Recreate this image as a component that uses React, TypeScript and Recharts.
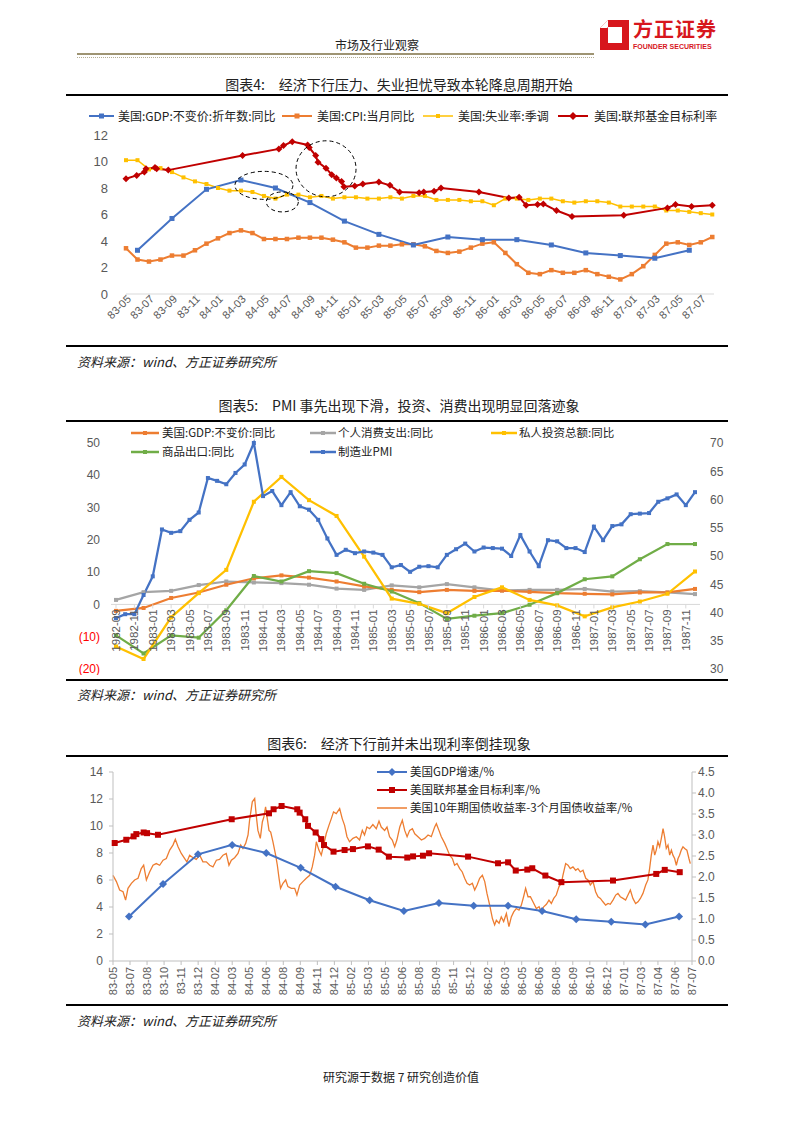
import React from 'react';
import { LineChart, Line, XAxis, YAxis, ReferenceLine, ReferenceDot } from 'recharts';

const CJK = '"Noto Sans CJK SC", "Noto Sans", sans-serif';
const LAT = '"Liberation Sans", Arial, sans-serif';

const BLUE = '#4472C4';
const ORANGE = '#ED7D31';
const YELLOW = '#FFC000';
const RED = '#C00000';
const GRAY = '#A5A5A5';
const GREEN = '#70AD47';
const TXT = '#595959';

// ---------- 图表4 (monthly axis, t = months since 1983-05) ----------
const F4_TICKS = [
  '83-05', '83-07', '83-09', '83-11', '84-01', '84-03', '84-05', '84-07', '84-09', '84-11',
  '85-01', '85-03', '85-05', '85-07', '85-09', '85-11', '86-01', '86-03', '86-05', '86-07',
  '86-09', '86-11', '87-01', '87-03', '87-05', '87-07',
];
// CPI 当月同比, 1983-05 .. 1987-08
const F4_CPI = [
  3.45, 2.6, 2.45, 2.6, 2.9, 2.9, 3.3, 3.8,
  4.2, 4.6, 4.8, 4.6, 4.15, 4.15, 4.15, 4.25, 4.25, 4.25, 4.1, 3.9,
  3.5, 3.5, 3.65, 3.65, 3.75, 3.75, 3.6, 3.25, 3.1, 3.2, 3.5, 3.8,
  3.9, 3.1, 2.25, 1.6, 1.5, 1.8, 1.6, 1.6, 1.8, 1.5, 1.3, 1.1,
  1.5, 2.1, 2.95, 3.8, 3.9, 3.7, 3.9, 4.3,
];
// 失业率:季调, 1983-05 .. 1987-08
const F4_UNEMP = [
  10.1, 10.1, 9.4, 9.5, 9.2, 8.8, 8.5, 8.3,
  8.0, 7.8, 7.8, 7.7, 7.4, 7.2, 7.5, 7.5, 7.3, 7.4, 7.2, 7.3,
  7.3, 7.2, 7.2, 7.3, 7.2, 7.4, 7.4, 7.1, 7.1, 7.1, 7.0, 7.0,
  6.7, 7.2, 7.2, 7.1, 7.2, 7.2, 7.0, 6.9, 7.0, 7.0, 6.9, 6.6,
  6.6, 6.6, 6.6, 6.3, 6.3, 6.2, 6.1, 6.0,
];
// GDP 不变价 同比, quarterly 1983Q2 .. 1987Q2
const GDP_US = [3.3, 5.7, 7.9, 8.6, 8.0, 6.9, 5.5, 4.5, 3.7, 4.3, 4.1, 4.1, 3.7, 3.1, 2.9, 2.7, 3.3];
// 联邦基金目标利率: [months since 1983-05, rate]
const F4_FED: [number, number][] = [
  [0, 8.7], [0.93, 8.95], [1.6, 9.2], [1.74, 9.45], [2.52, 9.55], [2.67, 9.45], [3.68, 9.35],
  [10.14, 10.45], [13.3, 10.95], [13.7, 11.2], [14.46, 11.5], [15.8, 11.25], [15.94, 11.05],
  [16.5, 10.45], [16.7, 9.95], [17.4, 9.5], [17.9, 9.0], [18.3, 8.75], [18.75, 8.5], [18.96, 8.1],
  [19.9, 8.15], [20.6, 8.3], [22.0, 8.45], [22.96, 8.2], [23.8, 7.7], [25.5, 7.65], [25.9, 7.7],
  [26.8, 7.75], [27.4, 8.0], [30.7, 7.7], [33.3, 7.25], [34.2, 7.3], [34.8, 6.7], [35.8, 6.75],
  [36.3, 6.8], [37.45, 6.3], [38.8, 5.85], [43.3, 5.95], [47.1, 6.5], [47.8, 6.75], [49.2, 6.6],
  [51.0, 6.7],
];
// dashed circles drawn on the chart (centre in data units, radii in px)
const F4_RINGS = [
  { t: 12.0, v: 8.2, rx: 29, ry: 14 },
  { t: 13.6, v: 6.95, rx: 16, ry: 10 },
  { t: 17.4, v: 9.45, rx: 30, ry: 28 },
];

// ---------- 图表5 ----------
const F5_MONTHS = [
  '1982-09', '1982-10', '1982-11', '1982-12',
  '1983-01', '1983-02', '1983-03', '1983-04', '1983-05', '1983-06', '1983-07', '1983-08', '1983-09', '1983-10', '1983-11', '1983-12',
  '1984-01', '1984-02', '1984-03', '1984-04', '1984-05', '1984-06', '1984-07', '1984-08', '1984-09', '1984-10', '1984-11', '1984-12',
  '1985-01', '1985-02', '1985-03', '1985-04', '1985-05', '1985-06', '1985-07', '1985-08', '1985-09', '1985-10', '1985-11', '1985-12',
  '1986-01', '1986-02', '1986-03', '1986-04', '1986-05', '1986-06', '1986-07', '1986-08', '1986-09', '1986-10', '1986-11', '1986-12',
  '1987-01', '1987-02', '1987-03', '1987-04', '1987-05', '1987-06', '1987-07', '1987-08', '1987-09', '1987-10', '1987-11', '1987-12',
];
const F5_PMI = [
  39.0, 39.7, 39.7, 43.1, 46.4, 54.7, 54.1, 54.4, 56.4, 57.7,
  63.8, 63.3, 62.7, 64.7, 66.2, 70.0, 60.6, 61.5, 59.0, 61.3,
  58.8, 58.2, 56.4, 53.1, 50.2, 51.1, 50.5, 50.8, 50.6, 50.2,
  48.0, 48.4, 47.2, 48.1, 48.2, 48.0, 50.2, 51.2, 52.2, 50.8,
  51.5, 51.4, 51.3, 50.0, 53.7, 50.8, 48.2, 52.8, 52.6, 51.4,
  51.4, 50.7, 55.2, 52.8, 55.3, 55.6, 57.4, 57.5, 57.6, 59.6,
  60.2, 60.9, 59.0, 61.3,
];
// quarterly, 1982-09 .. 1987-12 (every third month)
const F5_GDP = [-2.0, -1.1, 2.0, 3.7, 6.1, 8.1, 9.0, 8.3, 7.1, 5.6, 4.5, 3.8, 4.5, 4.2, 4.3, 3.9, 3.5, 3.3, 3.1, 3.7, 3.7, 4.8];
const F5_PCE = [1.4, 3.8, 4.2, 6.0, 7.1, 6.8, 6.6, 6.1, 4.9, 4.5, 5.9, 5.3, 6.3, 5.3, 4.3, 4.5, 4.5, 4.8, 4.0, 4.1, 3.7, 3.2];
const F5_INV = [-13.0, -16.9, -4.0, 3.5, 10.7, 31.8, 39.5, 32.3, 27.4, 14.8, 1.8, 0.2, -2.7, 2.3, 5.3, 1.4, -0.3, -3.7, -0.9, 0.9, 3.3, 10.2];
const F5_EXP = [-9.6, -15.2, -9.6, -10.3, -1.8, 8.8, 7.1, 10.3, 9.7, 6.4, 4.0, 0.4, -4.5, -3.5, -2.7, -0.1, 3.5, 7.8, 8.7, 14.0, 18.7, 18.7];

// ---------- 图表6 (daily category axis, t in label steps) ----------
const F6_TICKS = [
  '83-05', '83-07', '83-08', '83-10', '83-11', '83-12', '84-02', '84-03', '84-05', '84-06',
  '84-08', '84-09', '84-11', '84-12', '85-02', '85-03', '85-05', '85-06', '85-08', '85-09',
  '85-11', '85-12', '86-02', '86-03', '86-05', '86-06', '86-08', '86-09', '86-10', '86-12',
  '87-01', '87-03', '87-04', '87-06', '87-07',
];
const F6_GDP_T = [0.94, 2.94, 4.99, 7.0, 9.0, 11.02, 13.07, 15.07, 17.08, 19.14, 21.18, 23.2, 25.2, 27.2, 29.26, 31.26, 33.24];
const F6_FED: [number, number][] = [
  [0.1, 8.74], [0.78, 8.98], [1.21, 9.23], [1.37, 9.4], [1.8, 9.52], [2.0, 9.47], [2.64, 9.35],
  [6.97, 10.5], [9.16, 10.94], [9.43, 11.24], [9.9, 11.48], [10.82, 11.24], [10.96, 10.99],
  [11.29, 10.5], [11.45, 10.01], [11.9, 9.52], [12.23, 9.03], [12.39, 8.59], [12.95, 8.1],
  [13.6, 8.22], [14.09, 8.29], [14.97, 8.49], [15.6, 8.25], [16.2, 7.73], [17.28, 7.66],
  [17.62, 7.75], [18.2, 7.8], [18.56, 7.98], [20.85, 7.73], [22.61, 7.24], [23.2, 7.31],
  [23.65, 6.7], [24.33, 6.77], [24.62, 6.87], [25.39, 6.33], [26.33, 5.84], [29.36, 5.96],
  [31.9, 6.45], [32.4, 6.75], [33.28, 6.58],
];
// 10Y - 3M spread
const F6_SPREAD: [number, number][] = [
  [0.0, 2.04], [0.2, 1.89], [0.39, 1.69], [0.59, 1.65], [0.74, 1.45], [0.88, 1.73], [1.08, 1.85],
  [1.27, 1.93], [1.47, 1.97], [1.66, 2.2], [1.8, 2.28], [1.96, 1.93], [2.15, 2.12], [2.35, 2.28],
  [2.54, 2.32], [2.74, 2.28], [2.94, 2.4], [3.13, 2.44], [3.33, 2.64], [3.52, 2.76], [3.66, 2.9],
  [3.82, 2.72], [4.01, 2.56], [4.21, 2.44], [4.34, 2.36], [4.5, 2.52], [4.7, 2.46], [4.89, 2.42],
  [5.09, 2.52], [5.28, 2.36], [5.48, 2.36], [5.68, 2.28], [5.87, 2.24], [6.07, 2.4], [6.26, 2.42],
  [6.46, 2.52], [6.65, 2.56], [6.81, 2.28], [6.95, 2.4], [7.14, 2.46], [7.34, 2.56], [7.5, 2.76],
  [7.63, 2.68], [7.79, 2.8], [7.93, 3.0], [8.02, 3.35], [8.18, 3.79], [8.32, 3.87], [8.41, 3.47],
  [8.51, 3.11], [8.65, 2.92], [8.77, 3.31], [8.86, 3.43], [8.96, 3.67], [9.06, 3.39], [9.16, 3.11],
  [9.26, 3.07], [9.39, 2.84], [9.55, 2.52], [9.65, 2.28], [9.75, 1.97], [9.84, 1.73], [9.98, 1.85],
  [10.14, 1.93], [10.27, 1.77], [10.47, 1.73], [10.67, 1.73], [10.8, 1.57], [10.96, 1.81],
  [11.15, 1.89], [11.35, 1.97], [11.55, 2.04], [11.7, 2.24], [11.84, 2.52], [11.94, 2.84],
  [12.09, 2.64], [12.23, 2.52], [12.37, 2.76], [12.52, 3.03], [12.68, 3.23], [12.82, 3.39],
  [12.95, 3.55], [13.11, 3.51], [13.31, 3.63], [13.46, 3.39], [13.6, 3.23], [13.74, 2.96],
  [13.89, 2.84], [14.09, 2.92], [14.29, 2.96], [14.48, 2.88], [14.64, 3.11], [14.77, 3.0],
  [14.91, 3.19], [15.07, 3.15], [15.26, 3.25], [15.46, 3.15], [15.62, 3.33], [15.75, 3.19],
  [15.95, 3.11], [16.09, 3.19], [16.24, 2.96], [16.4, 2.88], [16.54, 2.72], [16.67, 2.88],
  [16.84, 3.19], [16.99, 3.35], [17.13, 3.11], [17.27, 2.96], [17.42, 3.11], [17.58, 3.15],
  [17.72, 3.03], [17.91, 2.96], [18.11, 2.88], [18.3, 2.92], [18.5, 3.0], [18.69, 2.96],
  [18.89, 3.19], [18.99, 3.27], [19.14, 3.11], [19.28, 2.96], [19.48, 2.8], [19.61, 2.68],
  [19.77, 2.52], [19.93, 2.44], [20.06, 2.28], [20.2, 2.32], [20.36, 2.2], [20.51, 2.12],
  [20.65, 1.97], [20.79, 1.85], [20.94, 1.81], [21.1, 1.85], [21.24, 1.69], [21.38, 1.81],
  [21.53, 1.97], [21.69, 2.04], [21.83, 1.89], [21.96, 1.61], [22.12, 1.33], [22.28, 1.01],
  [22.41, 0.86], [22.51, 0.97], [22.67, 0.9], [22.8, 1.05], [22.94, 0.94], [23.1, 1.13],
  [23.25, 0.82], [23.39, 1.05], [23.53, 1.17], [23.68, 1.25], [23.84, 1.21], [23.98, 1.33],
  [24.11, 1.53], [24.23, 1.73], [24.37, 1.53], [24.51, 1.53], [24.66, 1.41], [24.86, 1.25],
  [25.02, 1.29], [25.15, 1.17], [25.29, 1.29], [25.45, 1.35], [25.6, 1.45], [25.74, 1.37],
  [25.88, 1.49], [26.03, 1.57], [26.19, 1.77], [26.33, 1.85], [26.42, 2.04], [26.58, 2.32],
  [26.72, 2.28], [26.85, 2.2], [27.01, 2.24], [27.17, 2.16], [27.3, 2.2], [27.44, 2.12],
  [27.6, 2.16], [27.76, 1.97], [27.89, 1.93], [28.03, 1.81], [28.19, 1.89], [28.34, 1.65],
  [28.48, 1.53], [28.62, 1.49], [28.77, 1.41], [28.93, 1.33], [29.07, 1.37], [29.2, 1.35],
  [29.36, 1.45], [29.52, 1.57], [29.65, 1.61], [29.79, 1.53], [29.95, 1.49], [30.1, 1.45],
  [30.24, 1.57], [30.38, 1.69], [30.53, 1.49], [30.69, 1.37], [30.83, 1.41], [30.97, 1.49],
  [31.12, 1.61], [31.28, 1.81], [31.41, 1.93], [31.51, 2.2], [31.61, 2.52], [31.71, 2.76],
  [31.81, 2.52], [31.9, 2.64], [32.0, 2.84], [32.1, 2.72], [32.2, 2.92], [32.3, 3.15],
  [32.39, 2.96], [32.49, 2.68], [32.59, 2.76], [32.69, 2.52], [32.79, 2.64], [32.88, 2.52],
  [32.98, 2.44], [33.08, 2.28], [33.18, 2.44], [33.27, 2.52], [33.37, 2.64], [33.47, 2.72],
  [33.57, 2.68], [33.7, 2.64], [33.82, 2.44], [33.9, 2.32],
];

// ---------- helpers ----------
const sq = (color: string, s: number) => (p: any) =>
  p.cx == null || p.cy == null || p.value == null
    ? <g key={p.index} />
    : <rect key={p.index} x={p.cx - s / 2} y={p.cy - s / 2} width={s} height={s} fill={color} />;

const dia = (color: string, r: number) => (p: any) =>
  p.cx == null || p.cy == null
    ? <g key={p.index} />
    : <path key={p.index} d={`M${p.cx},${p.cy - r}L${p.cx + r},${p.cy}L${p.cx},${p.cy + r}L${p.cx - r},${p.cy}Z`} fill={color} />;

const Txt = ({ x, y, size, anchor = 'start', style, children }: any) => (
  <div
    style={{
      position: 'absolute', left: x, top: y, fontSize: size, lineHeight: 1, whiteSpace: 'pre',
      transform: `translate(${anchor === 'middle' ? '-50%' : anchor === 'end' ? '-100%' : '0'}, -50%)`,
      ...style,
    }}
  >
    {children}
  </div>
);

const Rule = ({ y, x = 66, w = 662, h = 2.5, color = '#000', dotted = false }: any) => (
  <div style={{ position: 'absolute', left: x, top: y - h / 2, width: w, height: dotted ? 0 : h,
    background: dotted ? 'none' : color, borderTop: dotted ? `1px dotted ${color}` : 'none' }} />
);

const Key = ({ x1, x2, y, color, mark, ms = 5, lw = 2, tx, label, size = 12 }: any) => {
  const mid = (x2 - x1) / 2;
  return (
    <>
      <svg style={{ position: 'absolute', left: x1, top: y - 6 }} width={x2 - x1} height={12}>
        <line x1={0} x2={x2 - x1} y1={6} y2={6} stroke={color} strokeWidth={lw} />
        {mark === 'sq' && <rect x={mid - ms / 2} y={6 - ms / 2} width={ms} height={ms} fill={color} />}
        {mark === 'dia' && <path d={`M${mid},${6 - ms}L${mid + ms},6L${mid},${6 + ms}L${mid - ms},6Z`} fill={color} />}
      </svg>
      <Txt x={tx} y={y} size={size} style={{ color: '#222' }}>{label}</Txt>
    </>
  );
};

// ---------- axis ticks ----------
const Tick4 = (p: any) => (
  <g transform={`translate(${p.x + 3},${p.y - 3}) rotate(-45)`}>
    <text textAnchor="end" dy="0.35em" fontSize={11} fill={TXT} fontFamily={LAT}>
      {F4_TICKS[Math.round(p.payload.value / 2)]}
    </text>
  </g>
);

const C5_H = 250;
const C5_M = { top: 18, right: 20, bottom: 4, left: 0 };
const C5_XH = 2;
const C5_PLOT_H = C5_H - C5_M.top - C5_M.bottom - C5_XH;

const Tick5 = (p: any) => {
  const y0 = p.y - (C5_PLOT_H * 20) / 70; // position of 0 on the left axis
  return (
    <g>
      <line x1={p.x} x2={p.x} y1={y0} y2={y0 + 4} stroke="#D9D9D9" />
      <g transform={`translate(${p.x},${y0 + 5}) rotate(-90)`}>
        <text textAnchor="end" dy="0.35em" fontSize={11.5} fill={TXT} fontFamily={LAT}>{p.payload.value}</text>
      </g>
    </g>
  );
};

const TickL5 = (p: any) => {
  const v = p.payload.value;
  return (
    <text x={p.x} y={p.y} textAnchor="end" dy="0.35em" fontSize={12} fontFamily={LAT} fill={v < 0 ? '#FF0000' : TXT}>
      {v < 0 ? `(${-v})` : v}
    </text>
  );
};

const Tick6 = (p: any) => (
  <g transform={`translate(${p.x},${p.y}) rotate(-90)`}>
    <text textAnchor="end" dy="0.35em" fontSize={11} fill={TXT} fontFamily={LAT}>{F6_TICKS[p.payload.value]}</text>
  </g>
);

const ring = (rx: number, ry: number) => (p: any) => (
  <ellipse cx={p.cx} cy={p.cy} rx={rx} ry={ry} fill="none" stroke="#000" strokeWidth={1} strokeDasharray="4 3" />
);

// ---------- derived tables ----------
const cpi4 = F4_CPI.map((v, i) => ({ t: i, v }));
const unemp4 = F4_UNEMP.map((v, i) => ({ t: i, v }));
const gdp4 = GDP_US.map((v, i) => ({ t: 1 + i * 3, v }));
const fed4 = F4_FED.map(([t, v]) => ({ t, v }));

const rows5 = F5_MONTHS.map((m, i) => {
  const q = i % 3 === 0 ? i / 3 : -1;
  return {
    m,
    pmi: F5_PMI[i],
    gdp: q >= 0 ? F5_GDP[q] : null,
    pce: q >= 0 ? F5_PCE[q] : null,
    inv: q >= 0 ? F5_INV[q] : null,
    exp: q >= 0 ? F5_EXP[q] : null,
  };
});

const gdp6 = GDP_US.map((v, i) => ({ t: F6_GDP_T[i], v }));
const fed6 = F6_FED.map(([t, v]) => ({ t, v }));
const spread6 = F6_SPREAD.map(([t, v]) => ({ t, v }));

export default function App() {
  return (
    <div style={{ position: 'absolute', left: 0, top: 0, width: 802, height: 1133, background: '#fff',
      overflow: 'hidden', fontFamily: CJK, color: '#222' }}>
      {/* header */}
      <Txt x={377} y={45} size={12} anchor="middle">市场及行业观察</Txt>
      <Rule x={77} w={517} y={54} h={1.5} color="#9E9473" />
      <Rule x={77} w={517} y={58} dotted color="#B5AE94" />
      <svg style={{ position: 'absolute', left: 600, top: 20 }} width={30} height={31}>
        <path d="M8 0H29V30H0V8Z M8 7V23H22V7Z" fill="#D7161D" fillRule="evenodd" />
        <path d="M0 8L8 0V7L7 8Z" fill="#fff" />
      </svg>
      <Txt x={633} y={29} size={20} style={{ color: '#D7161D', fontWeight: 700, letterSpacing: 1 }}>方正证券</Txt>
      <Txt x={633} y={45.5} size={7} style={{ color: '#D7161D', fontWeight: 700, fontFamily: LAT }}>FOUNDER SECURITIES</Txt>

      {/* 图表4 */}
      <Txt x={399} y={84} size={14} anchor="middle">{'图表4:\u3000经济下行压力、失业担忧导致本轮降息周期开始'}</Txt>
      <Rule y={95} />
      <Key x1={89} x2={114} y={116} color={BLUE} mark="sq" tx={118} label="美国:GDP:不变价:折年数:同比" />
      <Key x1={282} x2={312} y={116} color={ORANGE} mark="sq" tx={317} label="美国:CPI:当月同比" />
      <Key x1={423} x2={453} y={116} color={YELLOW} mark="sq" ms={4} lw={1.5} tx={458} label="美国:失业率:季调" />
      <Key x1={558} x2={588} y={116} color={RED} mark="dia" ms={4} tx={594} label="美国:联邦基金目标利率" />
      <div style={{ position: 'absolute', left: 60, top: 105 }}>
        <LineChart width={680} height={240} margin={{ top: 30, right: 26, bottom: 6, left: 0 }}>
          <XAxis type="number" dataKey="t" domain={[0, 51.15]} ticks={F4_TICKS.map((_, i) => i * 2)} interval={0}
            height={45} stroke="#D9D9D9" tickSize={4} tickMargin={2} tick={Tick4} />
          <YAxis type="number" domain={[0, 12]} ticks={[0, 2, 4, 6, 8, 10, 12]} interval={0} width={66} axisLine={false}
            tickLine={false} tickSize={6} tickMargin={12} tick={{ fontSize: 13, fill: TXT, fontFamily: LAT }} />
          <Line data={unemp4} dataKey="v" stroke={YELLOW} strokeWidth={1.5} dot={sq(YELLOW, 4)} isAnimationActive={false} />
          <Line data={cpi4} dataKey="v" stroke={ORANGE} strokeWidth={2} dot={sq(ORANGE, 4.5)} isAnimationActive={false} />
          <Line data={gdp4} dataKey="v" stroke={BLUE} strokeWidth={2} dot={sq(BLUE, 5)} isAnimationActive={false} />
          <Line data={fed4} dataKey="v" stroke={RED} strokeWidth={2} dot={dia(RED, 3.5)} isAnimationActive={false} />
          {F4_RINGS.map((r, i) => (
            <ReferenceDot key={i} x={r.t} y={r.v} r={1} shape={ring(r.rx, r.ry)} />
          ))}
        </LineChart>
      </div>
      <Rule y={346} />
      <Txt x={77} y={361} size={13} style={{ fontStyle: 'italic' }}>资料来源：wind、方正证券研究所</Txt>

      {/* 图表5 */}
      <Txt x={399} y={405} size={14} anchor="middle">{'图表5:\u3000PMI 事先出现下滑，投资、消费出现明显回落迹象'}</Txt>
      <Rule y={421} />
      <div style={{ position: 'absolute', left: 40, top: 425 }}>
        <LineChart width={720} height={C5_H} data={rows5} margin={C5_M}>
          <XAxis dataKey="m" interval={1} height={C5_XH} axisLine={false} tickLine={false} tickSize={0}
            tickMargin={0} padding={{ left: 5, right: 5 }} tick={Tick5} />
          <YAxis yAxisId="L" type="number" domain={[-20, 50]} ticks={[-20, -10, 0, 10, 20, 30, 40, 50]} interval={0}
            width={71} axisLine={false} tickLine={false} tickSize={6} tickMargin={5} tick={TickL5} />
          <YAxis yAxisId="R" orientation="right" type="number" domain={[30, 70]} interval={0}
            ticks={[30, 35, 40, 45, 50, 55, 60, 65, 70]} width={40} axisLine={false} tickLine={false}
            tickSize={6} tickMargin={4} tick={{ fontSize: 12, fill: TXT, fontFamily: LAT }} />
          <ReferenceLine yAxisId="L" y={0} stroke="#D9D9D9" />
          <Line yAxisId="L" dataKey="pce" connectNulls stroke={GRAY} strokeWidth={2.25} dot={sq(GRAY, 4)} isAnimationActive={false} />
          <Line yAxisId="L" dataKey="gdp" connectNulls stroke={ORANGE} strokeWidth={2.25} dot={sq(ORANGE, 4)} isAnimationActive={false} />
          <Line yAxisId="L" dataKey="exp" connectNulls stroke={GREEN} strokeWidth={2.25} dot={sq(GREEN, 4)} isAnimationActive={false} />
          <Line yAxisId="L" dataKey="inv" connectNulls stroke={YELLOW} strokeWidth={2.25} dot={sq(YELLOW, 4)} isAnimationActive={false} />
          <Line yAxisId="R" dataKey="pmi" stroke={BLUE} strokeWidth={2.25} dot={sq(BLUE, 4)} isAnimationActive={false} />
        </LineChart>
      </div>
      <Key x1={131} x2={159} y={433} color={ORANGE} mark="sq" ms={4} lw={2.5} tx={162} size={11.5} label="美国:GDP:不变价:同比" />
      <Key x1={310} x2={336} y={433} color={GRAY} mark="sq" ms={4} lw={2.5} tx={338} size={11.5} label="个人消费支出:同比" />
      <Key x1={491} x2={517} y={433} color={YELLOW} mark="sq" ms={4} lw={2.5} tx={519} size={11.5} label="私人投资总额:同比" />
      <Key x1={131} x2={159} y={452} color={GREEN} mark="sq" ms={4} lw={2.5} tx={162} size={11.5} label="商品出口:同比" />
      <Key x1={310} x2={336} y={452} color={BLUE} mark="sq" ms={4} lw={2.5} tx={338} size={11.5} label="制造业PMI" />
      <Rule y={680} />
      <Txt x={77} y={694} size={13} style={{ fontStyle: 'italic' }}>资料来源：wind、方正证券研究所</Txt>

      {/* 图表6 */}
      <Txt x={399} y={743} size={14} anchor="middle">{'图表6:\u3000经济下行前并未出现利率倒挂现象'}</Txt>
      <Rule y={756} />
      <div style={{ position: 'absolute', left: 40, top: 755 }}>
        <LineChart width={712} height={250} margin={{ top: 17, right: 20, bottom: 4, left: 0 }}>
          <XAxis type="number" dataKey="t" domain={[0, 34]} ticks={F6_TICKS.map((_, i) => i)} interval={0}
            height={40} stroke="#BFBFBF" tickSize={4} tickMargin={2} tick={Tick6} />
          <YAxis yAxisId="L" type="number" domain={[0, 14]} ticks={[0, 2, 4, 6, 8, 10, 12, 14]} interval={0} width={73}
            stroke="#BFBFBF" tickSize={4} tickMargin={6} tick={{ fontSize: 12, fill: TXT, fontFamily: LAT }} />
          <YAxis yAxisId="R" orientation="right" type="number" domain={[0, 4.5]} interval={0}
            ticks={[0, 0.5, 1, 1.5, 2, 2.5, 3, 3.5, 4, 4.5]} tickFormatter={(v: number) => v.toFixed(1)}
            width={40} stroke="#BFBFBF" tickSize={4} tickMargin={2} tick={{ fontSize: 12, fill: TXT, fontFamily: LAT }} />
          <Line yAxisId="R" data={spread6} dataKey="v" stroke={ORANGE} strokeWidth={1.3} dot={false} isAnimationActive={false} />
          <Line yAxisId="L" data={fed6} dataKey="v" stroke={RED} strokeWidth={2} dot={sq(RED, 6)} isAnimationActive={false} />
          <Line yAxisId="L" data={gdp6} dataKey="v" stroke={BLUE} strokeWidth={2} dot={dia(BLUE, 4)} isAnimationActive={false} />
        </LineChart>
      </div>
      <Key x1={377} x2={407} y={772} color={BLUE} mark="dia" ms={4} tx={410} size={11.5} label="美国GDP增速/%" />
      <Key x1={377} x2={407} y={790} color={RED} mark="sq" ms={6} tx={410} size={11.5} label="美国联邦基金目标利率/%" />
      <Key x1={377} x2={407} y={808} color={ORANGE} lw={1.5} tx={410} size={11.5} label="美国10年期国债收益率-3个月国债收益率/%" />
      <Rule y={1005} />
      <Txt x={77} y={1020} size={13} style={{ fontStyle: 'italic' }}>资料来源：wind、方正证券研究所</Txt>

      {/* footer */}
      <Txt x={401} y={1077} size={12} anchor="middle">研究源于数据 7 研究创造价值</Txt>
    </div>
  );
}
